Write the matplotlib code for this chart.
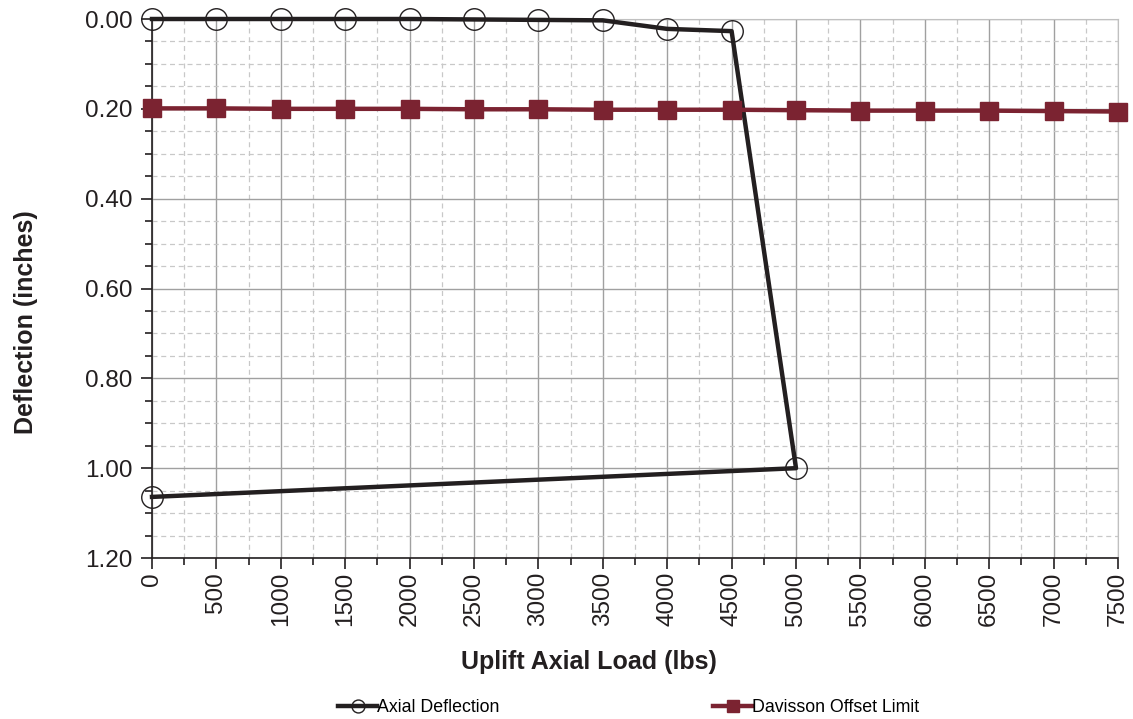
import matplotlib.pyplot as plt
from matplotlib.ticker import MultipleLocator, FormatStrFormatter

plt.rcParams['font.family'] = ['Liberation Sans', 'DejaVu Sans']

# load test readings
axial_load = [0, 500, 1000, 1500, 2000, 2500, 3000, 3500, 4000, 4500, 5000, 0]
axial_defl = [0.000, 0.000, 0.000, 0.000, 0.000, 0.001, 0.002, 0.003, 0.022, 0.027, 1.000, 1.064]

davisson_load = [0, 500, 1000, 1500, 2000, 2500, 3000, 3500, 4000, 4500, 5000, 5500, 6000, 6500, 7000, 7500]
davisson_defl = [0.199, 0.199, 0.200, 0.200, 0.200, 0.201, 0.201, 0.202, 0.202, 0.202, 0.203, 0.204, 0.204, 0.204, 0.205, 0.206]

red = '#7b2331'

fig = plt.figure(figsize=(11.33, 7.19), dpi=100)
ax = fig.add_axes([152/1133, 1 - 558/719, (1118 - 152)/1133, (558 - 19)/719])

ax.plot(axial_load, axial_defl, color='#231f20', lw=3.2, marker='o', ms=15.5,
        mfc='none', mec='#231f20', mew=1.0, label='Axial Deflection', clip_on=False, zorder=3)
ax.plot(davisson_load, davisson_defl, color=red, lw=3.2, marker='s', ms=13.5,
        mfc=red, mec=red, label='Davisson Offset Limit', clip_on=False, zorder=4)

ax.set_xlim(0, 7500)
ax.set_ylim(1.2, 0.0)
ax.xaxis.set_major_locator(MultipleLocator(500))
ax.xaxis.set_minor_locator(MultipleLocator(250))
ax.yaxis.set_major_locator(MultipleLocator(0.2))
ax.yaxis.set_minor_locator(MultipleLocator(0.05))
ax.yaxis.set_major_formatter(FormatStrFormatter('%.2f'))

ax.grid(which='major', color='#a0a0a0', lw=1.0, ls='-')
ax.grid(which='minor', color='#c8c8c8', lw=0.9, ls=(0, (4, 3)))
ax.set_axisbelow(True)

for side in ['top', 'right']:
    ax.spines[side].set_color('#c0c0c0')
for side in ['left', 'bottom']:
    ax.spines[side].set_color('#231f20')
    ax.spines[side].set_linewidth(1.2)

ax.tick_params(which='major', length=8, width=1.2, color='#231f20', labelsize=17.5, labelcolor='#231f20')
ax.tick_params(which='minor', length=5, width=1.2, color='#231f20')
ax.tick_params(axis='x', labelrotation=90, pad=2)
ax.tick_params(axis='y', pad=6)

ax.set_xlabel('Uplift Axial Load (lbs)', fontsize=18, fontweight='bold', color='#231f20')
ax.set_ylabel('Deflection (inches)', fontsize=18, fontweight='bold', labelpad=34, color='#231f20')
ax.xaxis.set_label_coords(0.452, -0.17)
ax.yaxis.label.set_y(0.438)

fig.legend(loc='center', bbox_to_anchor=(0.555, 1 - 708/719), ncol=2, frameon=False,
           fontsize=12.8, handlelength=2.2, handletextpad=0.0, columnspacing=12.0,
           markerscale=0.6)

fig.savefig('out.png', dpi=100)
